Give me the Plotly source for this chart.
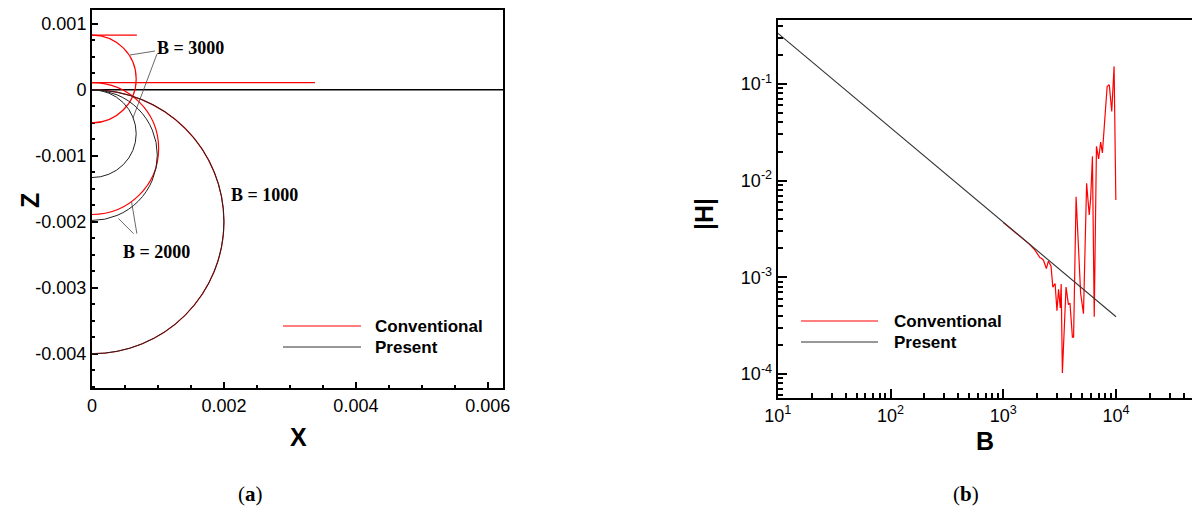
import plotly.graph_objects as go

W, H = 1192, 511

# ---------------- panel (a): trajectories in the X-Z plane ----------------
# each trajectory is a half loop: top z, bottom z and furthest x reached
case_labels = ["B = 1000", "B = 2000", "B = 3000"]
conv_top = [0.0, 0.00011, 0.00083]
conv_bottom = [-0.0040, -0.00189, -0.00050]
conv_xmax = [0.0020, 0.00101, 0.00067]
pres_top = [0.0, 0.0, 0.0]
pres_bottom = [-0.0040, -0.00198, -0.00133]
pres_xmax = [0.0020, 0.00099, 0.00067]

# straight segments of the trajectories
conv_seg_x = [[0.0, 0.00068], [0.0, 0.00338]]
conv_seg_z = [[0.00083, 0.00083], [0.00011, 0.00011]]
pres_seg_x = [0.0, 0.00623]
pres_seg_z = [0.0, 0.0]

x_ticks_a = [0, 0.002, 0.004, 0.006]
x_ticktext_a = ["0", "0.002", "0.004", "0.006"]
z_ticks_a = [0.001, 0, -0.001, -0.002, -0.003, -0.004]
z_ticktext_a = ["0.001", "0", "-0.001", "-0.002", "-0.003", "-0.004"]

# ---------------- panel (b): |H| versus B ----------------
B_present = [10, 100, 1000, 10000]
H_present = [0.336, 0.0353, 0.00371, 0.00039]

B_conv = [1000, 1300, 1700, 1900, 2110, 2190, 2270, 2410, 2510, 2650,
          2750, 2880, 2990, 3090, 3200, 3260, 3340, 3600, 3780, 3900, 4100, 4200,
          4420, 4850, 5140, 5480, 5780, 5950, 6170, 6400, 6700, 7000, 7300, 7560,
          8330, 8700, 9150, 9600, 9950]
H_conv = [0.00368, 0.00283, 0.0022, 0.00192, 0.0016, 0.00156, 0.0015,
          0.00123, 0.00147, 0.0013, 0.00079, 0.00086, 0.00045, 0.00075, 0.00048,
          0.00085, 0.000102, 0.00079, 0.00052, 0.00054, 0.00024, 0.00024, 0.0068,
          0.00068, 0.00042, 0.0094, 0.0044, 0.0065, 0.0178, 0.00039, 0.0226, 0.0168,
          0.025, 0.0193, 0.094, 0.098, 0.052, 0.152, 0.0063]

B_ticks = [10, 100, 1000, 10000]
B_ticktext = ["10<sup>1</sup>", "10<sup>2</sup>", "10<sup>3</sup>", "10<sup>4</sup>"]
H_ticks = [1e-1, 1e-2, 1e-3, 1e-4]
H_ticktext = ["10<sup>-1</sup>", "10<sup>-2</sup>", "10<sup>-3</sup>", "10<sup>-4</sup>"]

RED = "#ff0000"
BLACK = "#222222"
SANS = "Liberation Sans, Arial"
SERIF = "Liberation Serif, Times New Roman"
TICK_FONT = dict(family=SANS, size=18, color="black")
SERIF_BOLD = dict(family=SERIF, size=18, color="black")


def px_x(p):
    return p / W


def px_y(p):
    return 1 - p / H


fig = go.Figure()

# panel (a) straight segments
for sx, sz in zip(conv_seg_x, conv_seg_z):
    fig.add_trace(go.Scatter(x=sx, y=sz, mode="lines", line=dict(color=RED, width=1.2),
                             showlegend=False, hoverinfo="skip", xaxis="x", yaxis="y"))
fig.add_trace(go.Scatter(x=pres_seg_x, y=pres_seg_z, mode="lines",
                         line=dict(color="black", width=1.6),
                         showlegend=False, hoverinfo="skip", xaxis="x", yaxis="y"))

shapes = []
# half loops drawn as ellipses clipped by the axis at x = 0
for top, bot, xm in zip(conv_top, conv_bottom, conv_xmax):
    shapes.append(dict(type="circle", xref="x", yref="y", x0=-xm, x1=xm, y0=bot, y1=top,
                       line=dict(color=RED, width=1.2)))
for top, bot, xm in zip(pres_top, pres_bottom, pres_xmax):
    shapes.append(dict(type="circle", xref="x", yref="y", x0=-xm, x1=xm, y0=bot, y1=top,
                       line=dict(color=BLACK, width=1)))

# leader lines for the case labels
leaders = [
    ((0.000955, 0.000588), (0.000576, 0.000528)),
    ((0.000985, 0.000543), (0.00062, -0.00043)),
    ((0.00063, -0.00218), (0.00040, -0.00195)),
    ((0.00068, -0.00218), (0.00060, -0.00170)),
]
for (xa, ya), (xb, yb) in leaders:
    shapes.append(dict(type="line", xref="x", yref="y", x0=xa, y0=ya, x1=xb, y1=yb,
                       line=dict(color="#444444", width=0.8)))

# panel (b) curves
fig.add_trace(go.Scatter(x=B_conv, y=H_conv, mode="lines", line=dict(color=RED, width=1.2),
                         showlegend=False, hoverinfo="skip", xaxis="x2", yaxis="y2"))
fig.add_trace(go.Scatter(x=B_present, y=H_present, mode="lines",
                         line=dict(color="#333333", width=1.1),
                         showlegend=False, hoverinfo="skip", xaxis="x2", yaxis="y2"))

annotations = []
# case labels of panel (a)
for txt, (xa, ya) in zip(case_labels, [(0.002622, -0.001594), (0.000985, -0.002458), (0.001486, 0.000634)]):
    annotations.append(dict(text="<b>%s</b>" % txt, x=xa, y=ya, xref="x", yref="y",
                            xanchor="center", yanchor="middle",
                            showarrow=False, font=SERIF_BOLD))

# hand-made legends
legend_items = [("Conventional", RED), ("Present", "#333333")]
for (x0, x1, xt, ytop) in [(283, 361, 373, 326), (801, 878, 892, 321)]:
    for i, (name, col) in enumerate(legend_items):
        yy = ytop + 21 * i
        shapes.append(dict(type="line", xref="paper", yref="paper",
                           x0=px_x(x0), x1=px_x(x1), y0=px_y(yy), y1=px_y(yy),
                           line=dict(color=col, width=1.2)))
        annotations.append(dict(text="<b>%s</b>" % name, x=px_x(xt), y=px_y(yy),
                                xref="paper", yref="paper", xanchor="left", yanchor="middle",
                                showarrow=False,
                                font=dict(family=SANS, size=17, color="black")))

# axis titles and captions
title_font = dict(family=SANS, size=25, color="black")
caption_font = dict(family=SERIF, size=21, color="black")


def paper_text(txt, x, y, font, angle=0):
    return dict(text=txt, x=px_x(x), y=px_y(y), xref="paper", yref="paper",
                xanchor="center", yanchor="middle", showarrow=False,
                textangle=angle, font=font)


annotations += [
    paper_text("<b>X</b>", 298, 437, title_font),
    paper_text("<b>Z</b>", 30, 200, title_font, -90),
    paper_text("<b>B</b>", 985, 441, title_font),
    paper_text("<b>|H|</b>", 704, 214, title_font, -90),
    paper_text("(<b>a</b>)", 250, 494, caption_font),
    paper_text("(<b>b</b>)", 966, 494, caption_font),
]

axis_common = dict(showgrid=False, zeroline=False, showline=True, linecolor="black",
                   linewidth=2, ticks="inside", tickcolor="black", tickfont=TICK_FONT,
                   automargin=False)

fig.update_layout(
    width=W, height=H,
    margin=dict(l=0, r=0, t=0, b=0, autoexpand=False),
    paper_bgcolor="white", plot_bgcolor="white",
    showlegend=False,
    shapes=shapes,
    annotations=annotations,
    xaxis=dict(domain=[px_x(92), px_x(503)], range=[0, 0.00623], anchor="y",
               tickmode="array", tickvals=x_ticks_a, ticktext=x_ticktext_a,
               ticklen=6, tickwidth=1.5, mirror=True,
               minor=dict(ticks="inside", dtick=0.0005, tick0=0, ticklen=3, tickcolor="black", showgrid=False),
               **axis_common),
    yaxis=dict(domain=[px_y(388), px_y(10)], range=[-0.00452, 0.00121], anchor="x",
               tickmode="array", tickvals=z_ticks_a, ticktext=z_ticktext_a,
               ticklen=6, tickwidth=1.5, mirror=True,
               minor=dict(ticks="inside", dtick=0.00025, tick0=0, ticklen=3, tickcolor="black", showgrid=False),
               **axis_common),
    xaxis2=dict(type="log", domain=[px_x(777.7), 1.0], range=[1, 4.673], anchor="y2",
                tickmode="array", tickvals=B_ticks, ticktext=B_ticktext,
                ticklen=9, tickwidth=2, mirror=True,
                minor=dict(ticks="inside", dtick="D1", ticklen=5, tickcolor="black", showgrid=False),
                **axis_common),
    yaxis2=dict(type="log", domain=[px_y(398), px_y(20)], range=[-4.25, -0.338], anchor="x2",
                tickmode="array", tickvals=H_ticks, ticktext=H_ticktext,
                ticklen=9, tickwidth=2, mirror=False,
                minor=dict(ticks="inside", dtick="D1", ticklen=5, tickcolor="black", showgrid=False),
                **axis_common),
)

fig.write_html("out.html")
